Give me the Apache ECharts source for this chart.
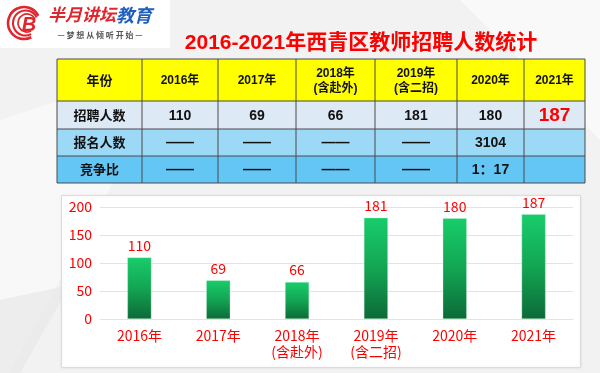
<!DOCTYPE html>
<html>
<head>
<meta charset="utf-8">
<script src="https://cdn.jsdelivr.net/npm/echarts@6/dist/echarts.min.js"></script>
<style>
html,body{margin:0;padding:0;background:#f2f2f2;}
#main{width:600px;height:373px;}
</style>
</head>
<body>
<div id="main"></div>
<script>
// ---- data ----
const titleText = '2016-2021年西青区教师招聘人数统计';
const categories = ['2016年', '2017年', '2018年\n(含赴外)', '2019年\n(含二招)', '2020年', '2021年'];
const tableHeader = ['年份', '2016年', '2017年', '2018年\n(含赴外)', '2019年\n(含二招)', '2020年', '2021年'];
const rowLabels = ['招聘人数', '报名人数', '竞争比'];
const hires = [110, 69, 66, 181, 180, 187];
const applicants = ['——', '——', '——', '——', '3104', ''];
const ratios = ['——', '——', '——', '——', '1：17', ''];
const yTicks = [0, 50, 100, 150, 200];

// ---- layout ----
const colX = [57, 142, 218, 296, 375, 457, 524, 585];
const rowY = [59, 101, 129, 156, 183];
const rowFill = ['#ffff00', '#dde9f5', '#9cd9f7', '#63c6f4'];
const FONT_CN = '"Noto Sans CJK SC"';
const FONT_MIX = '"Liberation Sans", "Noto Sans CJK SC"';

const graphics = [];
// background subtle shapes
graphics.push({type:'polygon', silent:true, z:-10, shape:{points:[[0,120],[180,60],[0,390]]}, style:{fill:'rgba(255,255,255,0.45)'}});
graphics.push({type:'polygon', silent:true, z:-10, shape:{points:[[460,0],[600,0],[600,140]]}, style:{fill:'rgba(255,255,255,0.5)'}});
graphics.push({type:'polygon', silent:true, z:-10, shape:{points:[[0,300],[70,285],[20,373],[0,373]]}, style:{fill:'rgba(230,230,230,0.6)'}});
// logo box
graphics.push({type:'rect', z:-5, shape:{x:0,y:0,width:170,height:48}, style:{fill:'#ffffff'}});
[[16,2.6],[12.5,2.1],[9,1.7]].forEach(function(a, i){
  graphics.push({type:'arc', shape:{cx:24 + i*1.5, cy:23, r:a[0], startAngle:0.35*Math.PI, endAngle:1.85*Math.PI}, style:{stroke:'#e0262c', lineWidth:a[1], fill:null}});
});
graphics.push({type:'text', x:29, y:25, style:{text:'B', font:'italic bold 20px "Liberation Sans"', fill:'#e0262c', textAlign:'center', textVerticalAlign:'middle'}});
graphics.push({type:'text', x:48, y:15, style:{text:'半月讲坛', font:'italic bold 17px ' + FONT_CN, fill:'#e0262c', textAlign:'left', textVerticalAlign:'middle'}});
graphics.push({type:'text', x:116, y:15, style:{text:'教育', font:'italic bold 18px ' + FONT_CN, fill:'#1f5fbf', textAlign:'left', textVerticalAlign:'middle'}});
graphics.push({type:'text', x:100, y:35, style:{text:'— 梦 想 从 倾 听 开 始 —', font:'bold 8px ' + FONT_CN, fill:'#555555', textAlign:'center', textVerticalAlign:'middle'}});

// title
graphics.push({type:'text', x:361, y:43, style:{text:titleText, font:'bold 21px ' + FONT_MIX, fill:'#ff0000', textAlign:'center', textVerticalAlign:'middle'}});

// table
const tableRows = [
  tableHeader,
  [rowLabels[0]].concat(hires.map(String)),
  [rowLabels[1]].concat(applicants),
  [rowLabels[2]].concat(ratios)
];
for (let r = 0; r < 4; r++) {
  graphics.push({type:'rect', z:1, shape:{x:colX[0], y:rowY[r], width:colX[7]-colX[0], height:rowY[r+1]-rowY[r]}, style:{fill:rowFill[r]}});
}
for (let r = 0; r <= 4; r++) {
  graphics.push({type:'line', z:3, shape:{x1:colX[0], y1:rowY[r], x2:colX[7], y2:rowY[r]}, style:{stroke:'#4a4a4a', lineWidth:1}});
}
for (let c = 0; c < colX.length; c++) {
  graphics.push({type:'line', z:3, shape:{x1:colX[c], y1:rowY[0], x2:colX[c], y2:rowY[4]}, style:{stroke:'#4a4a4a', lineWidth:1}});
}
for (let r = 0; r < 4; r++) {
  for (let c = 0; c < 7; c++) {
    let txt = tableRows[r][c];
    let size = (r === 0 && c > 0) ? 12 : (c === 0 ? 13 : 14);
    let color = '#111111';
    if (r === 1 && c === 6) { size = 19; color = '#ff0000'; }
    graphics.push({type:'text', z:4, x:(colX[c]+colX[c+1])/2, y:(rowY[r]+rowY[r+1])/2 + 1,
      style:{text:txt, font:'bold ' + size + 'px ' + FONT_MIX, fill:color, textAlign:'center', textVerticalAlign:'middle', lineHeight:15}});
  }
}
// chart panel
graphics.push({type:'rect', z:-2, shape:{x:61.5, y:195.5, width:519, height:172}, style:{fill:'#ffffff', stroke:'#dcdcdc', lineWidth:1, shadowBlur:3, shadowColor:'rgba(0,0,0,0.08)'}});

const chart = echarts.init(document.getElementById('main'), null, {renderer:'canvas'});
chart.setOption({
  backgroundColor:'#f2f2f2',
  animation:false,
  graphic:graphics,
  grid:{left:100, right:27, top:207, bottom:54, containLabel:false},
  xAxis:{
    type:'category', data:categories,
    axisLine:{show:true, lineStyle:{color:'#e3e3e3', width:1}},
    axisTick:{show:false},
    axisLabel:{color:'#ff0000', fontSize:14, fontFamily:FONT_CN, margin:9, lineHeight:16, interval:0}
  },
  yAxis:{
    type:'value', min:yTicks[0], max:yTicks[yTicks.length-1], interval:yTicks[1]-yTicks[0],
    axisLine:{show:false}, axisTick:{show:false},
    axisLabel:{color:'#ff0000', fontSize:14, fontFamily:FONT_CN, margin:8},
    splitLine:{lineStyle:{color:'#e3e3e3', width:1}}
  },
  series:[{
    type:'bar', data:hires, barWidth:24,
    itemStyle:{color:new echarts.graphic.LinearGradient(0,0,0,1,[{offset:0,color:'#18cd6b'},{offset:0.5,color:'#13a553'},{offset:1,color:'#0c6a38'}]), borderColor:'rgba(190,240,210,0.7)', borderWidth:0.5},
    label:{show:true, position:'top', distance:5, color:'#ff0000', fontSize:14, fontFamily:FONT_CN}
  }]
});
</script>
</body>
</html>
